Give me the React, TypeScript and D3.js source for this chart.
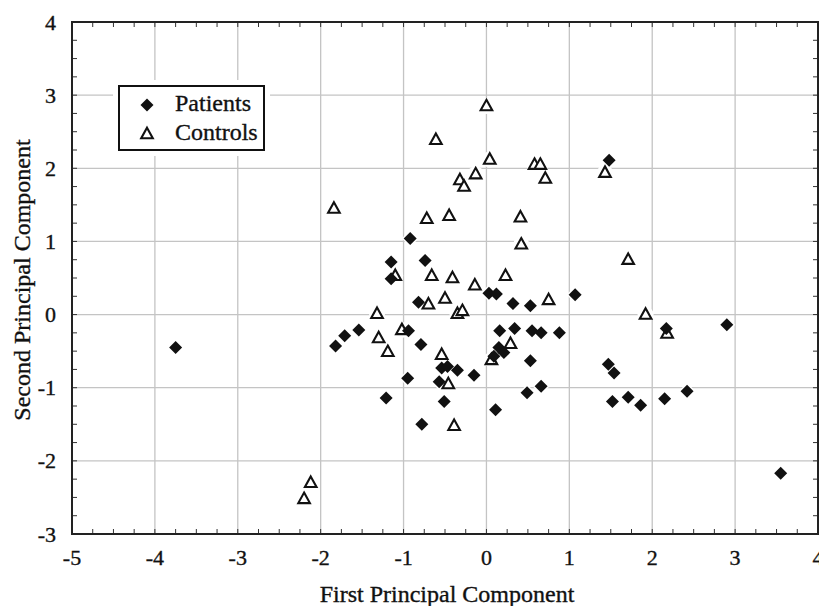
import React from "react";
import * as d3 from "d3";

const xTicks = [-5, -4, -3, -2, -1, 0, 1, 2, 3, 4];
const yTicks = [-3, -2, -1, 0, 1, 2, 3, 4];

const patientsX = [-3.75, -1.82, -1.71, -1.54, -1.21, -1.15, -1.15, -0.95, -0.94, -0.92, -0.82, -0.79, -0.78, -0.74, -0.57, -0.54, -0.47, -0.51, -0.35, -0.15, 0.03, 0.12, 0.09, 0.15, 0.21, 0.11, 0.16, 0.32, 0.34, 0.49, 0.53, 0.55, 0.53, 0.66, 0.66, 0.88, 1.07, 1.48, 1.47, 1.54, 1.52, 1.71, 1.86, 2.15, 2.17, 2.42, 2.9, 3.55];
const patientsY = [-0.45, -0.43, -0.29, -0.21, -1.14, 0.72, 0.49, -0.87, -0.22, 1.04, 0.17, -0.41, -1.5, 0.74, -0.92, -0.73, -0.71, -1.19, -0.76, -0.83, 0.29, 0.28, -0.57, -0.45, -0.52, -1.3, -0.22, 0.15, -0.19, -1.07, 0.12, -0.22, -0.63, -0.25, -0.98, -0.25, 0.27, 2.11, -0.68, -0.8, -1.19, -1.13, -1.24, -1.15, -0.19, -1.05, -0.14, -2.17];

const controlsX = [-2.2, -2.12, -1.84, -1.32, -1.3, -1.19, -1.1, -1.02, -0.72, -0.7, -0.66, -0.61, -0.54, -0.5, -0.46, -0.45, -0.41, -0.39, -0.35, -0.32, -0.29, -0.27, -0.14, -0.13, 0.0, 0.04, 0.06, 0.23, 0.29, 0.41, 0.42, 0.58, 0.65, 0.71, 0.75, 1.43, 1.71, 1.92, 2.18];
const controlsY = [-2.52, -2.3, 1.45, 0.01, -0.32, -0.51, 0.53, -0.21, 1.31, 0.14, 0.53, 2.39, -0.55, 0.22, -0.95, 1.35, 0.5, -1.52, 0.01, 1.84, 0.05, 1.75, 0.4, 1.92, 2.85, 2.12, -0.62, 0.53, -0.4, 1.33, 0.96, 2.05, 2.05, 1.86, 0.2, 1.94, 0.75, 0.0, -0.26];

const seriesNames = ["Patients", "Controls"];
const xTitle = "First Principal Component";
const yTitle = "Second Principal Component";

const W = 819;
const H = 606;
const FONT = "'Liberation Serif', 'Times New Roman', serif";

const diamond = (cx: number, cy: number, r: number) =>
  `M${cx},${cy - r}L${cx + r},${cy}L${cx},${cy + r}L${cx - r},${cy}Z`;
const triangle = (cx: number, cy: number) =>
  `M${cx},${cy - 6.3}L${cx + 5.8},${cy + 4.2}L${cx - 5.8},${cy + 4.2}Z`;

export default function App() {
  const x = d3.scaleLinear().domain([-5, 4]).range([72, 818]);
  const y = d3.scaleLinear().domain([-3, 4]).range([534, 22]);
  const [x0, x1] = x.range();
  const [y0, y1] = y.range();

  const minorX = d3.range(-5, 4.001, 0.25);
  const minorY = d3.range(-3, 4.001, 0.25);

  const patients = patientsX.map((v, i) => ({ x: x(v), y: y(patientsY[i]) }));
  const controls = controlsX.map((v, i) => ({ x: x(v), y: y(controlsY[i]) }));

  const txt = { fill: "#111", stroke: "#111", strokeWidth: 0.35 };

  return (
    <svg
      width={W}
      height={H}
      style={{ position: "absolute", left: 0, top: 0, background: "#fff" }}
      fontFamily={FONT}
    >
      <rect x={0} y={0} width={W} height={H} fill="#fff" />
      {/* grid */}
      {xTicks.map((t) => (
        <line key={"gx" + t} x1={x(t)} x2={x(t)} y1={y1} y2={y0} stroke="#c4c4c4" strokeWidth={1.3} />
      ))}
      {yTicks.map((t) => (
        <line key={"gy" + t} x1={x0} x2={x1} y1={y(t)} y2={y(t)} stroke="#c4c4c4" strokeWidth={1.3} />
      ))}
      {/* minor ticks inward */}
      {minorX.map((t, i) => (
        <g key={"mx" + i}>
          <line x1={x(t)} x2={x(t)} y1={y0} y2={y0 - 5} stroke="#333" strokeWidth={1} />
          <line x1={x(t)} x2={x(t)} y1={y1} y2={y1 + 5} stroke="#333" strokeWidth={1} />
        </g>
      ))}
      {minorY.map((t, i) => (
        <g key={"my" + i}>
          <line x1={x0} x2={x0 + 5} y1={y(t)} y2={y(t)} stroke="#333" strokeWidth={1} />
          <line x1={x1} x2={x1 - 5} y1={y(t)} y2={y(t)} stroke="#333" strokeWidth={1} />
        </g>
      ))}
      {/* halos */}
      {patients.map((p, i) => (
        <path key={"hp" + i} d={diamond(p.x, p.y, 8.5)} fill="#fff" />
      ))}
      {controls.map((p, i) => (
        <circle key={"hc" + i} cx={p.x} cy={p.y} r={8} fill="#fff" />
      ))}
      {/* markers */}
      {controls.map((p, i) => (
        <path key={"c" + i} d={triangle(p.x, p.y)} fill="#fff" stroke="#111" strokeWidth={2.1} strokeLinejoin="miter" />
      ))}
      {patients.map((p, i) => (
        <path key={"p" + i} d={diamond(p.x, p.y, 6.5)} fill="#111" />
      ))}
      {/* frame */}
      <rect x={x0} y={y1} width={x1 - x0} height={y0 - y1} fill="none" stroke="#222" strokeWidth={2} />
      {/* tick labels */}
      {xTicks.map((t) => (
        <text key={"tx" + t} x={x(t)} y={565} textAnchor="middle" fontSize={22} {...txt}>
          {t}
        </text>
      ))}
      {yTicks.map((t) => (
        <text key={"ty" + t} x={56} y={y(t) + 7.5} textAnchor="end" fontSize={22} {...txt}>
          {t}
        </text>
      ))}
      {/* axis titles */}
      <text x={447} y={602} textAnchor="middle" fontSize={24} {...txt}>
        {xTitle}
      </text>
      <text transform={`translate(30,280) rotate(-90)`} textAnchor="middle" fontSize={24} {...txt}>
        {yTitle}
      </text>
      {/* legend */}
      <rect x={113} y={80} width={157} height={76} fill="#fff" />
      <rect x={119} y={86} width={145} height={64} fill="#fff" stroke="#111" strokeWidth={2} />
      <path d={diamond(147, 105, 6.5)} fill="#111" />
      <text x={175} y={111} fontSize={24} {...txt}>
        {seriesNames[0]}
      </text>
      <path d={triangle(147, 134)} fill="#fff" stroke="#111" strokeWidth={2.1} />
      <text x={175} y={140} fontSize={24} {...txt}>
        {seriesNames[1]}
      </text>
    </svg>
  );
}
